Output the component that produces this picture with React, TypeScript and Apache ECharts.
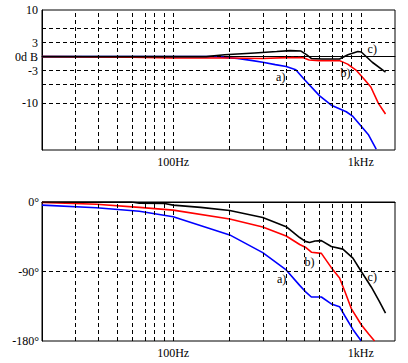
import React, { useEffect, useRef } from "react";
import * as echarts from "echarts";

const FREQ_MIN = 20;
const FREQ_MAX = 1520;
const gridFreqs = [30, 40, 50, 60, 70, 80, 90, 100, 200, 300, 400, 500, 600, 700, 800, 900, 1000];
const freqLabelValues = [100, 1000];
const magGridLines = [6, 3, 0, -3, -6, -10];
const magTickValues = [10, 3, 0, -3, -10];
const phaseGridLines = [-90];
const phaseTickValues = [0, -90, -180];

// magnitude (dB) vs frequency (Hz)
const magA: [number, number][] = [
  [20, 0], [170, 0], [220, -0.4], [260, -0.8], [300, -1.2], [350, -1.7], [400, -2.1],
  [450, -2.8], [500, -4.9], [603, -8.4], [696, -10.4], [836, -11.8], [907, -12.8],
  [984, -14.5], [1100, -16.8], [1207, -19.8],
];
const magB: [number, number][] = [
  [20, 0], [60, -0.1], [100, -0.3], [200, -0.3], [300, -0.4], [400, -0.2], [490, -0.2],
  [530, -0.7], [600, -0.85], [770, -0.85], [850, -1.6], [950, -3], [1050, -5],
  [1130, -6.5], [1240, -10], [1353, -12.3],
];
const magC: [number, number][] = [
  [20, 0], [150, 0], [188, 0.4], [272, 0.8], [356, 1.1], [420, 1.3], [480, 1.2],
  [515, 0.4], [546, -0.4], [620, -0.5], [770, -0.5], [853, 0.4], [964, 1.1],
  [1005, 1.0], [1150, -1.2], [1353, -3.3],
];
// phase (deg) vs frequency (Hz)
const phaseA: [number, number][] = [
  [20, -4], [39, -7.5], [66, -12], [100, -19], [200, -42.6], [300, -65.5], [400, -88],
  [472, -108], [506, -116], [545, -123], [616, -123], [696, -132], [770, -135.5],
  [819, -147], [907, -165], [1005, -180],
];
const phaseB: [number, number][] = [
  [20, -0.5], [39, -3], [66, -7], [100, -10.5], [200, -22], [300, -32.5], [400, -44],
  [472, -55], [506, -58.5], [545, -65], [616, -66.5], [696, -85], [770, -98.5],
  [819, -115], [889, -138], [1005, -159], [1100, -171], [1183, -180],
];
const phaseC: [number, number][] = [
  [20, 0], [60, 0], [66, -1.5], [90, -2], [100, -4], [140, -7], [200, -11], [300, -20],
  [400, -32], [472, -46], [506, -51], [533, -52.5], [570, -50.5], [616, -50], [696, -57.7],
  [802, -61], [907, -72.7], [1005, -90], [1136, -110], [1250, -128], [1353, -144],
];
// curve annotations [freq, value, text]
const magNotes: [number, number, string][] = [[374, -4.3, "a)"], [828, -3.4, "b)"], [1150, 1.7, "c)"]];
const phaseNotes: [number, number, string][] = [[378, -99.5, "a)"], [533, -77.5, "b)"], [1150, -97, "c)"]];

const lg = (f: number) => Math.log10(f);
const toLog = (d: [number, number][]) => d.map(([f, v]) => [lg(f), v]);

const FONT = "'Liberation Serif', 'DejaVu Serif', serif";

export default function App() {
  const ref = useRef<HTMLDivElement>(null);
  useEffect(() => {
    if (!ref.current) return;
    const chart = echarts.init(ref.current, undefined, { renderer: "svg" });
    const dash = { type: [4, 3] as any, color: "#000", width: 1 };
    const xAxis = (gridIndex: number, margin: number) => ({
      type: "value",
      gridIndex,
      min: lg(FREQ_MIN),
      max: lg(FREQ_MAX),
      axisLine: { show: true, lineStyle: { color: "#000", width: 1 } },
      axisTick: { show: false },
      splitLine: { show: false },
      axisLabel: {
        customValues: freqLabelValues.map(lg),
        formatter: (v: number) => (Math.abs(v - 2) < 1e-6 ? "100Hz" : "1kHz"),
        color: "#000",
        fontFamily: FONT,
        fontSize: 12,
        margin,
      },
    });
    const gridSeries = (idx: number, hLines: number[]) => ({
      type: "line",
      xAxisIndex: idx,
      yAxisIndex: idx,
      data: [],
      z: 1,
      silent: true,
      markLine: {
        silent: true,
        symbol: "none",
        animation: false,
        label: { show: false },
        lineStyle: dash,
        data: [
          ...gridFreqs.map((f) => ({ xAxis: lg(f) })),
          ...hLines.map((v) => ({ yAxis: v })),
        ],
      },
    });
    const curve = (idx: number, data: [number, number][], color: string, notes?: [number, number, string]) => ({
      type: "line",
      xAxisIndex: idx,
      yAxisIndex: idx,
      data: toLog(data),
      showSymbol: false,
      symbol: "none",
      z: 3,
      clip: true,
      lineStyle: { color, width: 1.6 },
      markPoint: notes
        ? {
            symbol: "circle",
            symbolSize: 0,
            silent: true,
            label: {
              show: true,
              position: "inside",
              formatter: notes[2],
              color: "#000",
              fontFamily: FONT,
              fontSize: 12,
            },
            data: [{ coord: [lg(notes[0]), notes[1]] }],
          }
        : undefined,
    });
    chart.setOption({
      animation: false,
      backgroundColor: "#fff",
      textStyle: { fontFamily: FONT },
      grid: [
        { left: 42, top: 10, width: 353, height: 140, show: true, borderColor: "#000", borderWidth: 1, backgroundColor: "transparent" },
        { left: 42, top: 202, width: 353, height: 139, show: true, borderColor: "#000", borderWidth: 1, backgroundColor: "transparent" },
      ],
      xAxis: [xAxis(0, 6), xAxis(1, 6)],
      yAxis: [
        {
          type: "value",
          gridIndex: 0,
          min: -20,
          max: 10,
          axisLine: { show: true, lineStyle: { color: "#000" } },
          axisTick: { show: false },
          splitLine: { show: false },
          axisLabel: {
            customValues: magTickValues,
            formatter: (v: number) => (v === 0 ? "0d B" : String(v)),
            color: "#000",
            fontFamily: FONT,
            fontSize: 12,
            margin: 4,
          },
        },
        {
          type: "value",
          gridIndex: 1,
          min: -180,
          max: 0,
          axisLine: { show: true, lineStyle: { color: "#000" } },
          axisTick: { show: false },
          splitLine: { show: false },
          axisLabel: {
            customValues: phaseTickValues,
            formatter: (v: number) => `${v}°`,
            color: "#000",
            fontFamily: FONT,
            fontSize: 12,
            margin: 3,
          },
        },
      ],
      series: [
        gridSeries(0, magGridLines),
        gridSeries(1, phaseGridLines),
        curve(0, magA, "#0000ff", magNotes[0]),
        curve(0, magB, "#ff0000", magNotes[1]),
        curve(0, magC, "#000000", magNotes[2]),
        curve(1, phaseA, "#0000ff", phaseNotes[0]),
        curve(1, phaseB, "#ff0000", phaseNotes[1]),
        curve(1, phaseC, "#000000", phaseNotes[2]),
      ],
    });
    return () => chart.dispose();
  }, []);
  return (
    <div
      ref={ref}
      style={{ position: "fixed", left: 0, top: 0, width: 408, height: 363, background: "#fff" }}
    />
  );
}
